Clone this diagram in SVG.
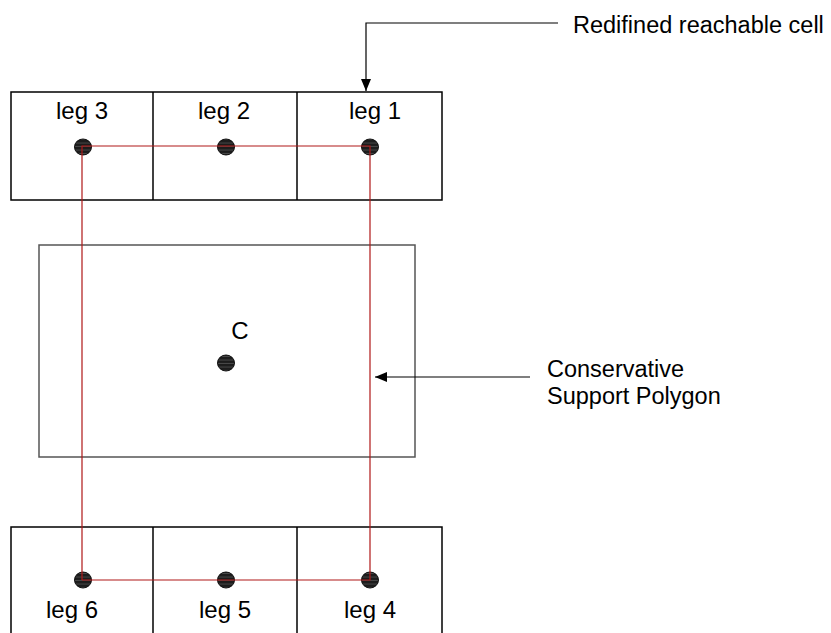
<svg xmlns="http://www.w3.org/2000/svg" width="831" height="633" viewBox="0 0 831 633">
  <style>
    .cell { fill: none; stroke: #000; stroke-width: 1.5; }
    .zone { fill: none; stroke: #555; stroke-width: 1.5; }
    .support { fill: none; stroke: #b01818; stroke-width: 1.2; }
    .leader { fill: none; stroke: #000; stroke-width: 1.2; }
    .lbl { font-family: "Liberation Sans", Arial, sans-serif; font-size: 24px; fill: #000; }
    .note { font-size: 23.5px; }
    .foot { fill: url(#stripe); stroke: #111; stroke-width: 1; }
  </style>
  <defs>
    <pattern id="stripe" width="4" height="3.5" patternUnits="userSpaceOnUse">
      <rect width="4" height="3.5" fill="#1c1c1c"/>
      <line x1="0" y1="3" x2="4" y2="3" stroke="#555" stroke-width="0.8"/>
    </pattern>
    <marker id="arrow" viewBox="0 0 12 10" refX="12" refY="5" markerWidth="12" markerHeight="10" markerUnits="userSpaceOnUse" orient="auto">
      <path d="M0,0 L12,5 L0,10 z" fill="#000"/>
    </marker>
  </defs>

  <!-- conservative area outline -->
  <g id="conservative-region">
    <rect class="zone" x="39" y="245" width="376" height="212"/>
  </g>

  <!-- upper row of reachable cells -->
  <g id="cells-top">
    <rect class="cell" x="11" y="92" width="431" height="108"/>
    <line class="cell" x1="153" y1="92" x2="153" y2="200"/>
    <line class="cell" x1="297" y1="92" x2="297" y2="200"/>
  </g>

  <!-- lower row of reachable cells -->
  <g id="cells-bottom">
    <rect class="cell" x="11" y="527" width="431" height="110"/>
    <line class="cell" x1="153" y1="527" x2="153" y2="637"/>
    <line class="cell" x1="297" y1="527" x2="297" y2="637"/>
  </g>

  <!-- foot positions -->
  <g id="leg1"><ellipse class="foot" cx="370" cy="147" rx="8.5" ry="8"/><text class="lbl" x="375" y="119" text-anchor="middle">leg 1</text></g>
  <g id="leg2"><ellipse class="foot" cx="226" cy="147" rx="8.5" ry="8"/><text class="lbl" x="224" y="119" text-anchor="middle">leg 2</text></g>
  <g id="leg3"><ellipse class="foot" cx="83" cy="147" rx="8.5" ry="8"/><text class="lbl" x="82" y="119" text-anchor="middle">leg 3</text></g>
  <g id="leg4"><ellipse class="foot" cx="370" cy="580" rx="8.5" ry="8"/><text class="lbl" x="370" y="618" text-anchor="middle">leg 4</text></g>
  <g id="leg5"><ellipse class="foot" cx="226" cy="580" rx="8.5" ry="8"/><text class="lbl" x="225" y="618" text-anchor="middle">leg 5</text></g>
  <g id="leg6"><ellipse class="foot" cx="83" cy="580" rx="8.5" ry="8"/><text class="lbl" x="72" y="618" text-anchor="middle">leg 6</text></g>

  <!-- centre of mass -->
  <g id="center">
    <ellipse class="foot" cx="226" cy="363" rx="8.5" ry="8"/>
    <text class="lbl" x="240" y="339" text-anchor="middle">C</text>
  </g>

  <!-- support polygon and callouts -->
  <g id="connectors">
    <polyline class="support" points="82,580 82,146 370,146 370,580 82,580"/>
    <polyline class="leader" points="558,23 366,23 366,91" marker-end="url(#arrow)"/>
    <line class="leader" x1="530" y1="377" x2="375" y2="377" marker-end="url(#arrow)"/>
  </g>

  <g id="annotations">
    <text class="lbl note" x="573" y="33">Redifined reachable cell</text>
    <text class="lbl note" x="547" y="377">Conservative</text>
    <text class="lbl note" x="547" y="404">Support Polygon</text>
  </g>
</svg>
